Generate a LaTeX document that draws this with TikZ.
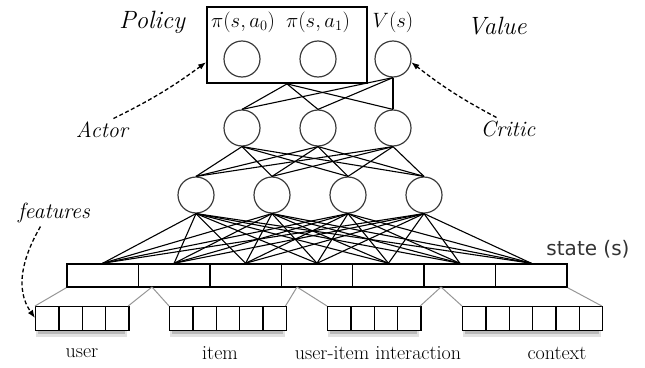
\documentclass[tikz,border=0pt]{standalone}
\usepackage{fontspec}
\newfontfamily\statefont[Scale=2]{DejaVu Sans}
\usepackage{xcolor}
\definecolor{nngray}{RGB}{60,60,60}
\definecolor{brgray}{RGB}{150,150,150}
\definecolor{shadowlight}{RGB}{225,225,225}
\definecolor{shadowdark}{RGB}{185,185,185}
\usetikzlibrary{arrows.meta, positioning}

\tikzset{
  neuron/.style={circle, draw=nngray, line width=1.2pt, minimum size=36pt, inner sep=0pt},
  link/.style={line width=1.1pt},
  policyframe/.style={draw, line width=1.8pt, minimum width=160pt, minimum height=76pt, inner sep=0pt},
  statecell/.style={draw, line width=1.5pt, minimum width=71.43pt, minimum height=23pt, inner sep=0pt},
  featcell/.style={draw, line width=1.3pt, minimum width=23.3pt, minimum height=24pt, inner sep=0pt},
  featgroup/.style={minimum height=24pt, inner sep=0pt, outer sep=0pt},
  bracket/.style={draw=brgray, line width=1pt},
  hint/.style={line width=1.3pt, dash pattern=on 4pt off 2.5pt, -{Latex[length=8pt, width=6pt]}},
  bigtag/.style={font=\fontsize{25}{28}\selectfont\itshape},
  tag/.style={font=\fontsize{22}{25}\selectfont\itshape},
  outlabel/.style={font=\fontsize{20.74}{23}\selectfont},
  caption/.style={font=\fontsize{20}{23}\selectfont},
  statetag/.style={font=\statefont, text=black!80},
}

\begin{document}
\begin{tikzpicture}[x=1pt, y=1pt]
  \useasboundingbox (0,0) rectangle (645,-367);

  % output layer
  \node[policyframe] (policybox) at (287,-45) {};
  \node[neuron] (pi0) at (242,-59) {};
  \node[neuron] (pi1) at (318,-59) {};
  \node[neuron] (val) at (393,-59) {};
  \node[outlabel] (pi0lab) at (243,-22) {$\pi(s,a_0)$};
  \node[outlabel] (pi1lab) at (318,-22) {$\pi(s,a_1)$};
  \node[outlabel] (vallab) at (393,-22) {$V(s)$};
  \node[bigtag] (policy) at (152,-22) {Policy};
  \node[bigtag] (value) at (497,-26) {Value};

  % hidden layers
  \foreach \x [count=\i] in {242,318,393}
    \node[neuron] (h1\i) at (\x,-128) {};
  \foreach \x [count=\i] in {196,272,348,424}
    \node[neuron] (h2\i) at (\x,-195) {};

  % state vector
  \foreach \i in {1,...,7}
    \node[statecell] (s\i) at ({67+71.43*(\i-0.5)},-275.5) {};
  \node[statetag] (statelab) at (588,-249) {state (s)};

  % connections
  \foreach \i in {1,2,3} {
    \draw[link] (policybox.south) -- (h1\i.north);
    \draw[link] (val.south) -- (h1\i.north);
  }
  \foreach \i in {1,2,3}
    \foreach \j in {1,...,4}
      \draw[link] (h1\i.south) -- (h2\j.north);
  \foreach \j in {1,...,4}
    \foreach \k in {1,...,7}
      \draw[link] (h2\j.south) -- (s\k.north);

  % feature groups (with a soft shadow under each)
  \foreach \grp/\xa/\num in {user/35/4, item/169/5, inter/327/4, ctx/462/6} {
    \node[featgroup, minimum width=\num*23.3pt, anchor=north west] (box-\grp) at (\xa,-306) {};
    \fill[shadowlight] ([xshift=1pt,yshift=-6.5pt]box-\grp.south west) rectangle ([xshift=-1pt]box-\grp.south east);
    \fill[shadowdark] ([xshift=3pt,yshift=-4pt]box-\grp.south west) rectangle ([xshift=-3pt]box-\grp.south east);
    \foreach \c in {1,...,\num}
      \node[featcell, fill=white, anchor=north west] (\grp-\c) at ({\xa+23.3*(\c-1)},-306) {};
  }
  \node[caption] (usercap) at (82,-353) {user};
  \node[caption] (itemcap) at (220,-353) {item};
  \node[caption] (intercap) at (378,-353) {user-item interaction};
  \node[caption] (ctxcap) at (557,-353) {context};

  \coordinate (split1) at (152,-287);
  \coordinate (split2) at (297,-287);
  \coordinate (split3) at (441,-287);
  \draw[bracket] (box-user.north west) -- (s1.south west);
  \draw[bracket] (box-user.north east) -- (split1);
  \draw[bracket] (box-item.north west) -- (split1);
  \draw[bracket] (box-item.north east) -- (split2);
  \draw[bracket] (box-inter.north west) -- (split2);
  \draw[bracket] (box-inter.north east) -- (split3);
  \draw[bracket] (box-ctx.north west) -- (split3);
  \draw[bracket] (box-ctx.north east) -- (s7.south east);

  % actor / critic hints
  \node[tag] (actor) at (102,-130) {Actor};
  \node[tag] (critic) at (508,-129) {Critic};
  \node[tag] (features) at (54,-213) {features};
  \draw[hint] (actor.45) to[bend right=5] (policybox.192);
  \draw[hint] (critic.135) to[bend left=5] (val.-10);
  \draw[hint] (features.225) to[out=240, in=125] (box-user.west);
\end{tikzpicture}
\end{document}
